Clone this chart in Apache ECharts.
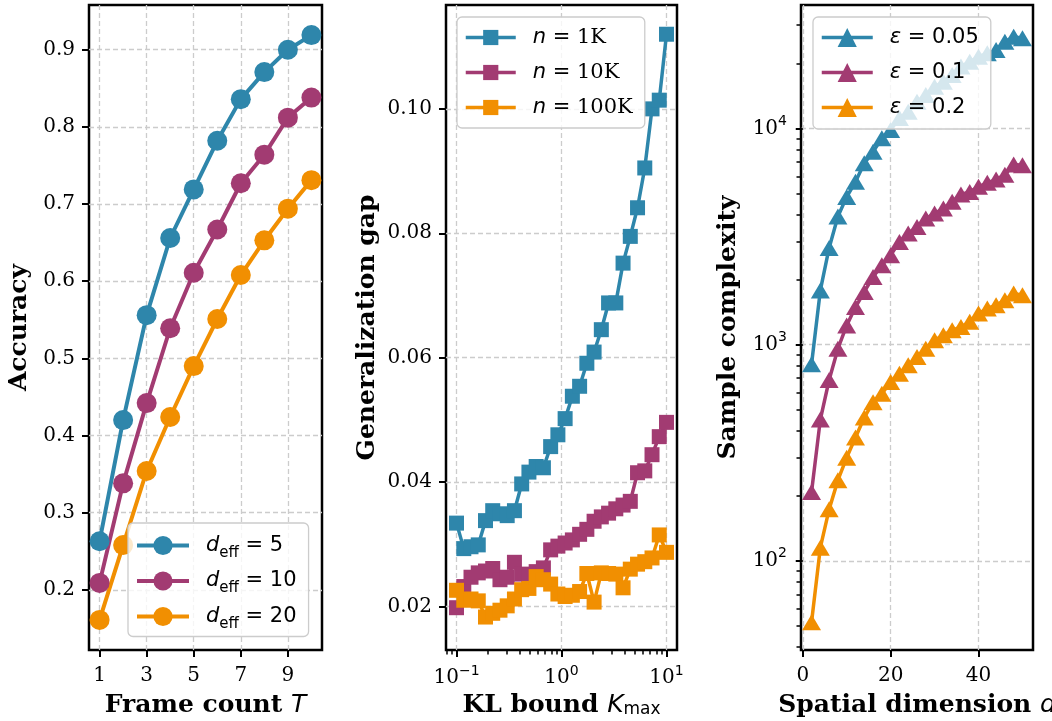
<!DOCTYPE html>
<html>
<head>
<meta charset="utf-8">
<script src="https://cdn.jsdelivr.net/npm/echarts@6/dist/echarts.min.js"></script>
<style>
html, body { margin: 0; padding: 0; background: #fff; }
#main { width: 1052px; height: 721px; }
</style>
</head>
<body>
<div id="main"></div>
<script>
// panel 1: accuracy vs frame count
var frames = [1, 2, 3, 4, 5, 6, 7, 8, 9, 10];
var accD5 = [0.263, 0.420, 0.556, 0.656, 0.719, 0.782, 0.836, 0.871, 0.900, 0.919];
var accD10 = [0.209, 0.338, 0.442, 0.539, 0.611, 0.667, 0.727, 0.764, 0.812, 0.838];
var accD20 = [0.161, 0.258, 0.354, 0.424, 0.490, 0.551, 0.608, 0.653, 0.694, 0.731];

// panel 2: generalization gap vs KL bound
var klBound = [0.1, 0.1173, 0.1374, 0.1611, 0.1888, 0.2212, 0.2593, 0.3039, 0.3562, 0.4175,
  0.4894, 0.5736, 0.6723, 0.788, 0.9237, 1.0826, 1.269, 1.4874, 1.7433, 2.0434,
  2.395, 2.8072, 3.2903, 3.8566, 4.5204, 5.2983, 6.2102, 7.279, 8.5317, 10.0];
var gap1K = [0.0334, 0.0293, 0.0296, 0.0299, 0.0338, 0.0354, 0.0349, 0.0346, 0.0354, 0.0397,
  0.0416, 0.0425, 0.0423, 0.0457, 0.0476, 0.0502, 0.0538, 0.0554, 0.0591, 0.0609,
  0.0645, 0.0688, 0.0688, 0.0752, 0.0795, 0.0841, 0.0905, 0.1000, 0.1014, 0.1120];
var gap10K = [0.0198, 0.0232, 0.0247, 0.0254, 0.0257, 0.0261, 0.0243, 0.0247, 0.0271, 0.0252,
  0.0250, 0.0256, 0.0262, 0.0291, 0.0297, 0.0302, 0.0307, 0.0316, 0.0324, 0.0337,
  0.0344, 0.0350, 0.0357, 0.0363, 0.0369, 0.0415, 0.0418, 0.0444, 0.0473, 0.0496];
var gap100K = [0.0226, 0.0210, 0.0212, 0.0209, 0.0183, 0.0189, 0.0194, 0.0201, 0.0212, 0.0227,
  0.0229, 0.0248, 0.0243, 0.0236, 0.0220, 0.0216, 0.0218, 0.0224, 0.0253, 0.0207,
  0.0254, 0.0253, 0.0252, 0.0230, 0.0260, 0.0268, 0.0272, 0.0278, 0.0315, 0.0287];

// panel 3: sample complexity vs spatial dimension
var dims = [2, 4, 6, 8, 10, 12, 14, 16, 18, 20, 22, 24, 26, 28, 30, 32, 34, 36, 38, 40, 42, 44, 46, 48, 50];
var samplesEps005 = [811, 1780, 2800, 3910, 4820, 5660, 6890, 7800, 9000, 9820, 11160, 11950, 13280,
  14260, 15590, 16440, 17660, 19300, 20330, 21440, 22230, 23020, 25170, 26540, 26120];
var samplesEps01 = [208, 450, 686, 957, 1227, 1492, 1753, 2057, 2329, 2589, 2985, 3264, 3502,
  3830, 4040, 4263, 4575, 4950, 5085, 5370, 5600, 5800, 6100, 6800, 6750];
var samplesEps02 = [52, 115, 173, 236, 300, 372, 460, 542, 593, 671, 734, 802, 877,
  958, 1047, 1105, 1165, 1207, 1274, 1393, 1469, 1521, 1604, 1722, 1690];

// tick labels
var frameTicks = [1, 3, 5, 7, 9];
var accTicks = [0.2, 0.3, 0.4, 0.5, 0.6, 0.7, 0.8, 0.9];
var klTicks = [0.1, 1, 10];
var klMinorTicks = [0.08, 0.09, 0.2, 0.3, 0.4, 0.5, 0.6, 0.7, 0.8, 0.9, 2, 3, 4, 5, 6, 7, 8, 9];
var gapTicks = [0.02, 0.04, 0.06, 0.08, 0.10];
var dimTicks = [0, 20, 40];
var sampleTicks = [100, 1000, 10000];
var sampleMinorTicks = [40, 50, 60, 70, 80, 90, 200, 300, 400, 500, 600, 700, 800, 900,
  2000, 3000, 4000, 5000, 6000, 7000, 8000, 9000, 20000, 30000];

var serif = "'DejaVu Serif', serif";
var sans = "'DejaVu Sans', sans-serif";
var blue = '#2e86ab', plum = '#a23b72', amber = '#f18f01';

function pairs(xs, ys) {
  return xs.map(function (x, i) { return [x, ys[i]]; });
}

var myChart = echarts.init(document.getElementById('main'), null, { renderer: 'canvas' });

var tickStyle = { show: true, length: 7, lineStyle: { color: '#000', width: 2 } };
var gridLine = { show: true, lineStyle: { color: '#cccccc', width: 1.3, type: [5, 3] } };
var nameStyle = {
  color: '#000', fontFamily: serif, fontWeight: 'bold', fontSize: 25,
  rich: {
    b: { fontFamily: serif, fontWeight: 'bold', fontSize: 25, color: '#000' },
    i: { fontFamily: sans, fontStyle: 'italic', fontWeight: 'normal', fontSize: 25, color: '#000' },
    s: { fontFamily: sans, fontWeight: 'normal', fontSize: 17, color: '#000', verticalAlign: 'bottom', lineHeight: 17 }
  }
};
var powRich = {
  b: { fontFamily: serif, fontSize: 20, color: '#000', lineHeight: 28 },
  e: { fontFamily: sans, fontSize: 14, color: '#000', verticalAlign: 'top', lineHeight: 14 }
};
function powLabel(v) {
  var e = Math.round(Math.log(v) / Math.LN10);
  return '{b|10}{e|' + (e < 0 ? '\u2212' : '') + Math.abs(e) + '}';
}
function plainLabel(ticks, digits, margin) {
  return {
    color: '#000', fontFamily: serif, fontSize: 20, margin: margin, customValues: ticks,
    formatter: function (v) { return v.toFixed(digits); }
  };
}

var legendRich = {
  g: { width: 12 },
  i: { fontFamily: sans, fontStyle: 'italic', fontSize: 21, color: '#000', lineHeight: 30 },
  s: { fontFamily: sans, fontSize: 15, color: '#000', verticalAlign: 'bottom', lineHeight: 15 },
  t: { fontFamily: sans, fontSize: 21, color: '#000', lineHeight: 30 },
  r: { fontFamily: serif, fontSize: 21, color: '#000', lineHeight: 30 }
};
var legendText = {
  'd5': '{g|}{i|d}{s|eff}{t| = 5}',
  'd10': '{g|}{i|d}{s|eff}{t| = 10}',
  'd20': '{g|}{i|d}{s|eff}{t| = 20}',
  'n1K': '{g|}{i|n}{t| = }{r|1K}',
  'n10K': '{g|}{i|n}{t| = }{r|10K}',
  'n100K': '{g|}{i|n}{t| = }{r|100K}',
  'e005': '{g|}{i|\u03b5}{t| = 0.05}',
  'e01': '{g|}{i|\u03b5}{t| = 0.1}',
  'e02': '{g|}{i|\u03b5}{t| = 0.2}'
};
function legendBox(names, left, top, itemWidth, itemHeight, itemGap, lw, pad) {
  return {
    data: names, orient: 'vertical', left: left, top: top,
    itemWidth: itemWidth, itemHeight: itemHeight, itemGap: itemGap,
    padding: pad, selectedMode: false,
    backgroundColor: 'rgba(255,255,255,0.8)', borderColor: '#cccccc', borderWidth: 1.3, borderRadius: 5,
    lineStyle: { width: lw },
    textStyle: { rich: legendRich },
    formatter: function (name) { return legendText[name]; }
  };
}

function lineSeries(name, x, y, symbol, size, color, xi, yi, lw) {
  return {
    name: name, type: 'line', xAxisIndex: xi, yAxisIndex: yi,
    data: pairs(x, y), symbol: symbol, symbolSize: size, showSymbol: true, showAllSymbol: true,
    lineStyle: { color: color, width: lw }, itemStyle: { color: color, borderWidth: 0 },
    emphasis: { disabled: true }, z: 3
  };
}

var gridCommon = {
  top: 5, height: 645, show: true, borderColor: '#000', borderWidth: 2.5, backgroundColor: '#fff',
  outerBoundsMode: 'none', containLabel: false
};

myChart.setOption({
  animation: false,
  backgroundColor: '#fff',
  grid: [
    Object.assign({ left: 89, width: 233 }, gridCommon),
    Object.assign({ left: 446, width: 231 }, gridCommon),
    Object.assign({ left: 801, width: 232 }, gridCommon)
  ],
  xAxis: [
    { type: 'value', gridIndex: 0, min: 0.55, max: 10.45,
      axisLine: { show: false }, axisTick: Object.assign({ customValues: frameTicks }, tickStyle),
      axisLabel: plainLabel(frameTicks, 0, 16), splitLine: gridLine,
      name: '{b|Frame count }{i|T}', nameLocation: 'middle', nameGap: 43, nameMoveOverlap: false,
      nameTextStyle: nameStyle },
    { type: 'log', gridIndex: 1, min: 0.0794, max: 12.59,
      axisLine: { show: false }, axisTick: Object.assign({ customValues: klTicks }, tickStyle),
      axisLabel: { customValues: klTicks, margin: 14, formatter: powLabel, rich: powRich },
      splitLine: gridLine,
      name: '{b|KL bound }{i|K}{s|max}', nameLocation: 'middle', nameGap: 43, nameMoveOverlap: false,
      nameTextStyle: nameStyle },
    { type: 'value', gridIndex: 2, min: -0.4, max: 52.4,
      axisLine: { show: false }, axisTick: Object.assign({ customValues: dimTicks }, tickStyle),
      axisLabel: plainLabel(dimTicks, 0, 16), splitLine: gridLine,
      name: '{b|Spatial dimension }{i|d}', nameLocation: 'middle', nameGap: 43, nameMoveOverlap: false,
      nameTextStyle: nameStyle },
    { type: 'log', gridIndex: 1, min: 0.0794, max: 12.59, position: 'bottom',
      axisLine: { show: false }, axisLabel: { show: false }, splitLine: { show: false },
      axisTick: { show: true, length: 4.5, customValues: klMinorTicks, lineStyle: { color: '#000', width: 1.5 } } }
  ],
  yAxis: [
    { type: 'value', gridIndex: 0, min: 0.122, max: 0.958,
      axisLine: { show: false }, axisTick: Object.assign({ customValues: accTicks }, tickStyle),
      axisLabel: plainLabel(accTicks, 1, 14), splitLine: gridLine,
      name: 'Accuracy', nameLocation: 'middle', nameRotate: 90, nameGap: 57, nameMoveOverlap: false,
      nameTextStyle: nameStyle },
    { type: 'value', gridIndex: 1, min: 0.0130, max: 0.1167,
      axisLine: { show: false }, axisTick: Object.assign({ customValues: gapTicks }, tickStyle),
      axisLabel: plainLabel(gapTicks, 2, 14), splitLine: gridLine,
      name: 'Generalization gap', nameLocation: 'middle', nameRotate: 90, nameGap: 66, nameMoveOverlap: false,
      nameTextStyle: nameStyle },
    { type: 'log', gridIndex: 2, min: 38.7, max: 37200,
      axisLine: { show: false }, axisTick: Object.assign({ customValues: sampleTicks }, tickStyle),
      axisLabel: { customValues: sampleTicks, margin: 14, formatter: powLabel, rich: powRich },
      splitLine: gridLine,
      name: 'Sample complexity', nameLocation: 'middle', nameRotate: 90, nameGap: 60, nameMoveOverlap: false,
      nameTextStyle: nameStyle },
    { type: 'log', gridIndex: 2, min: 38.7, max: 37200, position: 'left',
      axisLine: { show: false }, axisLabel: { show: false }, splitLine: { show: false },
      axisTick: { show: true, length: 4.5, customValues: sampleMinorTicks, lineStyle: { color: '#000', width: 1.5 } } }
  ],
  legend: [
    legendBox(['d5', 'd10', 'd20'], 128, 523, 52, 24, 10, 4, [12, 12, 5, 7]),
    legendBox(['n1K', 'n10K', 'n100K'], 457, 17, 50, 19, 14, 3.5, [10, 12, 10, 7]),
    legendBox(['e005', 'e01', 'e02'], 813, 17, 51, 24, 14, 3.5, [10, 12, 11, 7])
  ],
  series: [
    lineSeries('d5', frames, accD5, 'circle', 20, blue, 0, 0, 4),
    lineSeries('d10', frames, accD10, 'circle', 20, plum, 0, 0, 4),
    lineSeries('d20', frames, accD20, 'circle', 20, amber, 0, 0, 4),
    lineSeries('n1K', klBound, gap1K, 'rect', 15, blue, 1, 1, 3.5),
    lineSeries('n10K', klBound, gap10K, 'rect', 15, plum, 1, 1, 3.5),
    lineSeries('n100K', klBound, gap100K, 'rect', 15, amber, 1, 1, 3.5),
    lineSeries('e005', dims, samplesEps005, 'triangle', [19, 16], blue, 2, 2, 3.5),
    lineSeries('e01', dims, samplesEps01, 'triangle', [19, 16], plum, 2, 2, 3.5),
    lineSeries('e02', dims, samplesEps02, 'triangle', [19, 16], amber, 2, 2, 3.5)
  ]
});
</script>
</body>
</html>
